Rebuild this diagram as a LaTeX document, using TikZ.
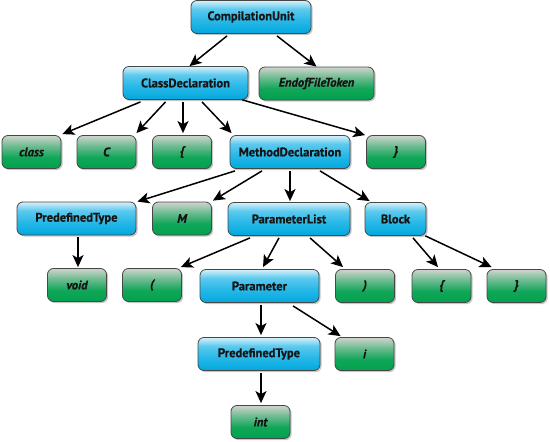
\documentclass[tikz,border=0pt]{standalone}
\usepackage{fontspec}
\setmainfont{PT Sans}[BoldFeatures={FakeBold=0.6},BoldItalicFeatures={FakeBold=0.6}]
\usetikzlibrary{arrows.meta,shadows}
\definecolor{bordc}{RGB}{70,70,70}
\definecolor{btop}{RGB}{214,241,251}
\definecolor{bmid}{RGB}{40,184,232}
\definecolor{bbot}{RGB}{0,168,222}
\definecolor{gtop}{RGB}{208,212,205}
\definecolor{gbot}{RGB}{0,162,78}
\definecolor{txt}{RGB}{20,20,20}
\pgfdeclareverticalshading{blueshade}{100bp}{color(0bp)=(bbot); color(25bp)=(bbot); color(45bp)=(bmid); color(62bp)=(bmid!70!btop); color(75bp)=(btop); color(100bp)=(btop)}
\pgfdeclareverticalshading{greenshade}{100bp}{color(0bp)=(gbot); color(25bp)=(gbot); color(42bp)=(gbot!92!gtop); color(60bp)=(gbot!45!gtop); color(75bp)=(gtop); color(100bp)=(gtop)}
\tikzset{
  base/.style={rounded corners=6pt, draw=bordc, line width=0.8pt, minimum height=33pt, inner sep=0pt,
    text=txt, font=\fontsize{12.5}{14}\selectfont\bfseries,
    drop shadow={shadow xshift=1.6pt, shadow yshift=-1.6pt, opacity=0.45}},
  nt/.style={base, shading=blueshade},
  tk/.style={base, shading=greenshade, minimum width=59pt,
    font=\fontsize{12.5}{14}\selectfont\bfseries\itshape},
  arr/.style={draw=black, line width=1.5pt, -{Stealth[length=12pt,width=11pt,inset=3pt]}}
}
\begin{document}
\begin{tikzpicture}[x=1pt,y=-1pt]
\useasboundingbox (0,0) rectangle (550,442);
% row 1
\node[nt, minimum width=120pt] (cu) at (251,17) {CompilationUnit};
% row 2
\node[nt, minimum width=125pt] (cd) at (185.5,83) {ClassDeclaration};
\node[tk, minimum width=115pt] (eof) at (316.5,83.5) {EndofFileToken};
% row 3
\node[tk] (cls) at (31.5,152) {class};
\node[tk] (c) at (106.5,152) {C};
\node[tk] (lb1) at (182,152) {\{};
\node[nt, minimum width=120pt] (md) at (290,152) {MethodDeclaration};
\node[tk] (rb1) at (396,152) {\}};
% row 4
\node[nt, minimum width=119pt] (pt) at (76.5,218.5) {PredefinedType};
\node[tk] (m) at (182,218.5) {M};
\node[nt, minimum width=122pt] (pl) at (289,219) {ParameterList};
\node[nt, minimum width=61pt] (blk) at (395.5,219) {Block};
% row 5
\node[tk] (void) at (77,285) {void};
\node[tk] (lp) at (152,285) {(};
\node[nt, minimum width=119pt] (par) at (259.5,286) {Parameter};
\node[tk] (rp) at (365,286) {)};
\node[tk] (lb2) at (441.5,286) {\{};
\node[tk] (rb2) at (516.5,286) {\}};
% row 6
\node[nt, minimum width=122pt] (pt2) at (259,354) {PredefinedType};
\node[tk] (i) at (364.5,354) {i};
% row 7
\node[tk] (int) at (260.5,422) {int};
% arrows
\draw[arr] ([xshift=-24pt,yshift=-2pt]cu.south) -- ([xshift=4pt]cd.north);
\draw[arr] ([xshift=26pt,yshift=-2pt]cu.south) -- ([xshift=0pt]eof.north);
\draw[arr] ([xshift=-45pt,yshift=-2pt]cd.south) -- ([xshift=1pt,yshift=1pt]cls.north east);
\draw[arr] ([xshift=-20pt,yshift=-2pt]cd.south) -- ([xshift=0pt,yshift=2pt]c.north east);
\draw[arr] ([xshift=-2.5pt,yshift=-2pt]cd.south) -- ([xshift=1pt,yshift=2pt]lb1.north);
\draw[arr] ([xshift=16.5pt,yshift=-2pt]cd.south) -- ([xshift=2pt,yshift=2pt]md.north west);
\draw[arr] ([xshift=-6pt,yshift=0pt]cd.south east) -- ([xshift=-1pt,yshift=0pt]rb1.north west);
\draw[arr] ([xshift=-55pt,yshift=-2pt]md.south) -- ([xshift=1pt,yshift=0pt]pt.north east);
\draw[arr] ([xshift=-28pt,yshift=-2pt]md.south) -- ([xshift=1pt,yshift=1pt]m.north east);
\draw[arr] ([xshift=0pt,yshift=-2pt]md.south) -- ([xshift=1pt,yshift=1pt]pl.north);
\draw[arr] ([xshift=30pt,yshift=-2pt]md.south) -- ([xshift=5pt,yshift=1pt]blk.north west);
\draw[arr] ([xshift=1.5pt,yshift=-2pt]pt.south) -- ([xshift=1pt,yshift=1pt]void.north);
\draw[arr] ([xshift=-39pt,yshift=-2pt]pl.south) -- ([xshift=-1pt,yshift=1pt]lp.north east);
\draw[arr] ([xshift=-10pt,yshift=-2pt]pl.south) -- ([xshift=3.5pt,yshift=2pt]par.north);
\draw[arr] ([xshift=21pt,yshift=-2pt]pl.south) -- ([xshift=8pt,yshift=2pt]rp.north west);
\draw[arr] ([xshift=17.5pt,yshift=-2pt]blk.south) -- ([xshift=-3.5pt,yshift=2pt]lb2.north);
\draw[arr] ([xshift=-1pt,yshift=0pt]blk.south east) -- ([xshift=5pt,yshift=2pt]rb2.north west);
\draw[arr] ([xshift=1.5pt,yshift=-2pt]par.south) -- ([xshift=2pt,yshift=2pt]pt2.north);
\draw[arr] ([xshift=33.5pt,yshift=-3pt]par.south) -- ([xshift=6pt,yshift=1pt]i.north west);
\draw[arr] ([xshift=2pt,yshift=-2pt]pt2.south) -- ([xshift=0.5pt,yshift=2pt]int.north);
\end{tikzpicture}
\end{document}
